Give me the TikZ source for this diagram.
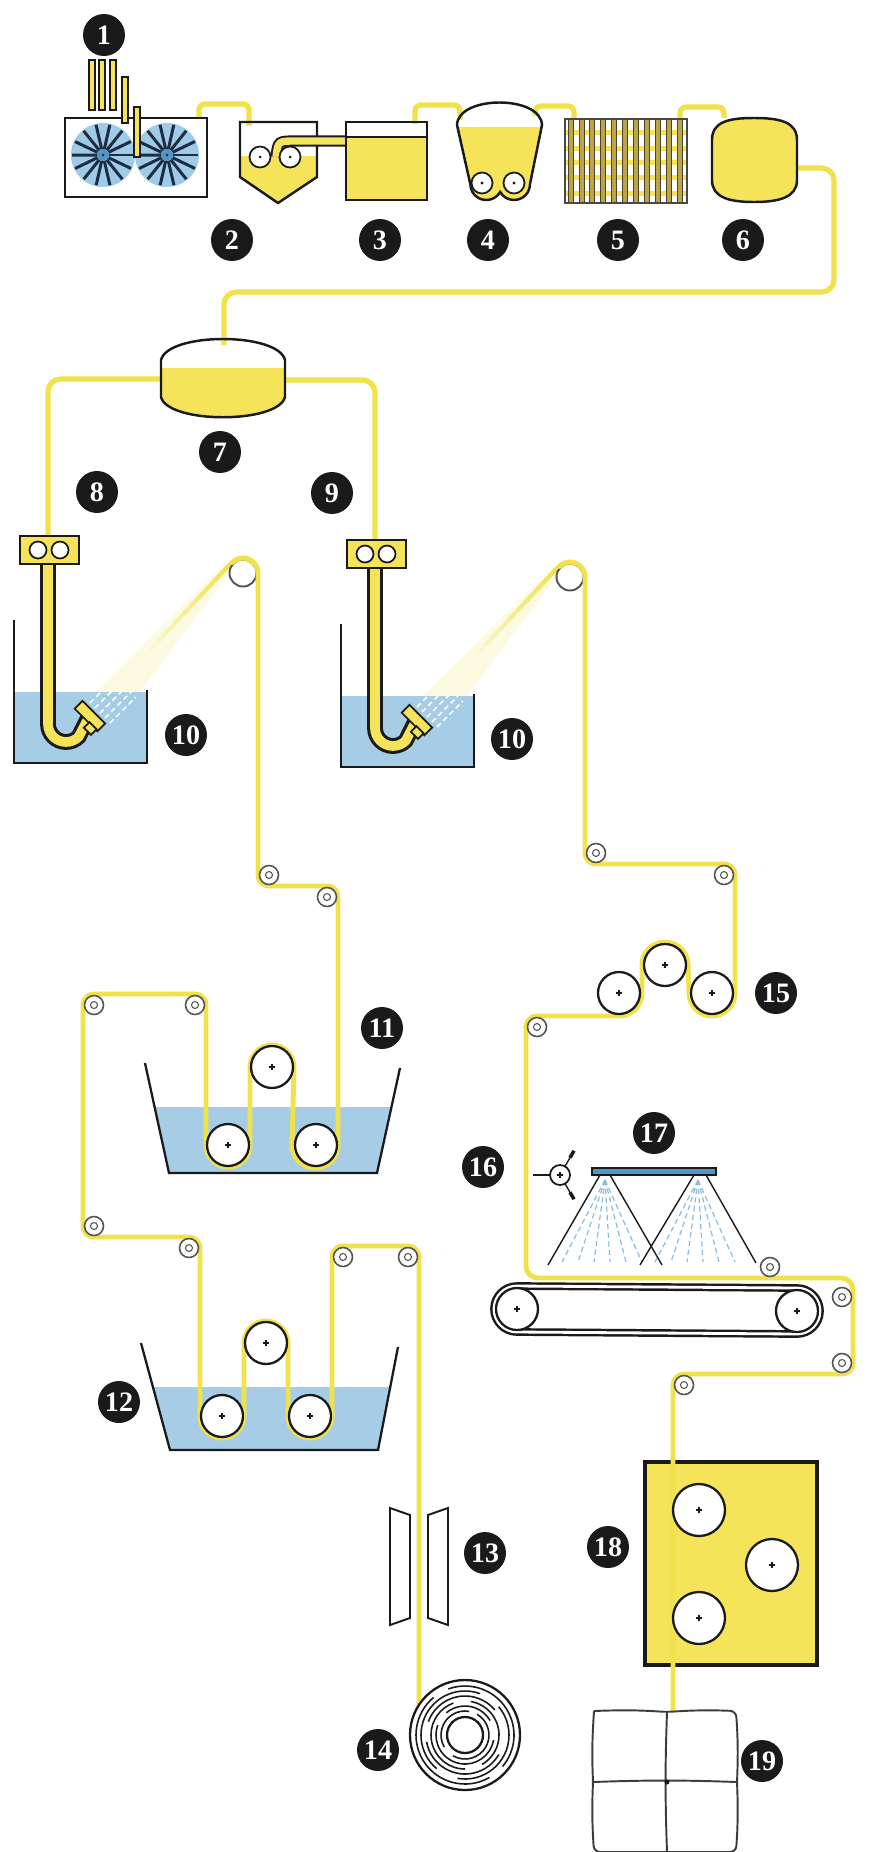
\documentclass[tikz,border=0pt]{standalone}
\usepackage{fontspec}
\setmainfont{Liberation Serif}
\usetikzlibrary{calc}
\definecolor{fiber}{HTML}{F1E14A}
\definecolor{paste}{HTML}{F5E35A}
\definecolor{bath}{HTML}{A6CDE5}
\definecolor{fanblue}{HTML}{9FCBE6}
\definecolor{spoke}{HTML}{1D2C44}
\definecolor{ink}{HTML}{1A1A1A}
\definecolor{spray}{HTML}{4F98C6}
\definecolor{rackbar}{HTML}{BBA44A}

\begin{document}
\begin{tikzpicture}[x=0.02cm, y=-0.02cm,
    fiber/.style={draw=fiber, line width=2.8pt, line cap=round, line join=round},
    pipe/.style={draw=fiber, line width=3pt, rounded corners=0.12cm},
    outline/.style={draw=ink, line width=1.4pt},
    thin/.style={draw=ink, line width=0.8pt},
    drum/.style={draw=ink, fill=white, line width=1.3pt},
    guide/.style={draw=ink!75, fill=white, line width=0.9pt},
    num/.style={circle, fill=ink, text=white, inner sep=0pt, minimum size=0.84cm,
                font=\bfseries\fontsize{16}{16}\selectfont}]

\useasboundingbox (0,0) rectangle (869,1852);
\fill[white] (0,0) rectangle (869,1852);

%% pipes of the top row
\draw[pipe] (199,122) -- (199,104) -- (249,104) -- (249,126);
\draw[pipe] (415,124) -- (415,105) -- (460,105) -- (460,120);
\draw[pipe] (535,116) -- (535,106) -- (574,106) -- (574,120);
\draw[pipe] (680,120) -- (680,107) -- (724,107) -- (724,118);
\draw[pipe, rounded corners=0.25cm] (796,168) -- (834,168) -- (834,292) -- (224,292) -- (224,345);
\draw[pipe, rounded corners=0.25cm] (163,379) -- (48,379) -- (48,540);
\draw[pipe, rounded corners=0.25cm] (283,380) -- (375,380) -- (375,544);

%% 1: dissolving tank with two stirrers
\draw[outline, fill=white] (65,118) rectangle (207,197);
\foreach \cx in {103,167}{
  \fill[fanblue] (\cx,155) circle[radius=32];
  \foreach \a in {0,25.7,...,340}
    \draw[spoke, line width=1.7pt] (\cx,155) ++(\a:6) -- ++(\a:25);
  \fill[spray] (\cx,155) circle[radius=6];
  \fill[spoke] (\cx,155) circle[radius=1.5];
}
\foreach \x/\ya/\yb in {92/60/110, 102/60/110, 113/60/110, 125/77/123, 137/107/157}
  \draw[thin, line width=0.6pt, fill=paste] (\x-3,\ya) rectangle (\x+3,\yb);

%% 2: hopper
\begin{scope}
  \clip (240,122) -- (317,122) -- (317,177) -- (278,203) -- (240,177) -- cycle;
  \fill[paste] (230,156) rectangle (330,210);
\end{scope}
\draw[outline, line join=miter] (240,122) -- (317,122) -- (317,177) -- (278,203) -- (240,177) -- cycle;
\draw[ink, line width=6.4pt] (276,157) .. controls (278,141) .. (296,141) -- (347,141);
\draw[paste, line width=4.2pt] (276,157) .. controls (278,141) .. (296,141) -- (352,141);
\foreach \x in {260,290}{
  \draw[drum, line width=1pt] (\x,157) circle[radius=10.5];
  \fill[ink] (\x,157) circle[radius=1.5];
}

%% 3
\fill[paste] (346,137) rectangle (427,200);
\draw[ink, line width=1pt] (346,137) -- (427,137);
\draw[outline] (346,122) rectangle (427,200);

%% 4
\def\vesselfour{(457,125) .. controls (458,95) and (541,95) .. (542,125) -- (530,184)
  arc[start angle=0, end angle=150, radius=16] arc[start angle=30, end angle=180, radius=16] -- cycle}
\begin{scope}
  \clip \vesselfour;
  \fill[paste] (450,127) rectangle (550,210);
\end{scope}
\draw[outline] \vesselfour;
\foreach \x in {482,514}{
  \draw[drum, line width=1pt] (\x,183) circle[radius=10.5];
  \fill[ink] (\x,183) circle[radius=1.6];
}

%% 5: filter rack
\fill[white] (565,119) rectangle (687,203);
\foreach \y in {132,148,162,177,193}
  \fill[paste] (565,\y-2.5) rectangle (687,\y+2.5);
\foreach \i in {0,...,10}
  \draw[draw=ink!70!rackbar, line width=0.4pt, fill=rackbar] (568+10.9*\i,119) rectangle (573+10.9*\i,203);
\draw[thin, draw=ink!80] (565,119) rectangle (687,203);

%% 6
\draw[outline, fill=paste] (712,140) .. controls (712,122) and (728,118) .. (754,118)
  .. controls (780,118) and (797,122) .. (797,140) -- (797,180)
  .. controls (797,197) and (780,202) .. (754,202) .. controls (728,202) and (712,197) .. (712,180) -- cycle;

%% 7
\def\tanksev{(161,360) .. controls (168,332) and (278,332) .. (285,360) -- (285,397)
  .. controls (278,424) and (168,424) .. (161,397) -- cycle}
\begin{scope}
  \clip \tanksev;
  \fill[paste] (150,368) rectangle (300,430);
\end{scope}
\draw[outline] \tanksev;

%% 8, 9, 10: spinnerets in the coagulating baths
\foreach \dx/\dy in {0/0, 327/4}{
\begin{scope}[shift={(\dx,\dy)}]
  \fill[bath] (15,692) rectangle (146,763);
  \fill[fill=fiber, opacity=0.16] (96,692) -- (140,692) -- (230,572) -- (224,565) -- cycle;
  \foreach \i [evaluate=\i as \op using 0.1*\i+0.1] in {0,...,9}
    \draw[fiber, opacity=\op, line width=2.4pt, line cap=butt]
      ($(150,650)!\i/10!(232,562)$) -- ($(150,650)!\i/10+0.1!(232,562)$);
  \begin{scope}
    \clip (15,692) rectangle (146,763);
    \foreach \k in {-2,...,2}
      \draw[white, line width=0.9pt, densely dashed] (100+5*\k,713+5*\k) -- ++(26,-26);
  \end{scope}
  \draw[ink, line width=1.2pt] (14,620) -- (14,763) -- (147,763) -- (147,690);
  % feed tube and jet
  \draw[ink, line width=9pt] (48,562) -- (48,724) arc[start angle=180, end angle=45, radius=18] -- (88,718);
  \draw[paste, line width=5.5pt] (48,560) -- (48,724) arc[start angle=180, end angle=45, radius=18] -- (89,717);
  \begin{scope}[shift={(86,720)}, rotate=45]
    \draw[ink, line width=1pt, fill=paste] (0,-16) rectangle (11,16);
    \draw[ink, line width=1pt, fill=paste] (-7,4) rectangle (1,14);
  \end{scope}
  \draw[outline, fill=paste] (20,536) rectangle (79,564);
  \foreach \x in {38,60}
    \draw[ink, line width=1pt, fill=white] (\x,550) circle[radius=8.5];
  \draw[guide, line width=1.1pt] (243,573) circle[radius=13.5];
\end{scope}}

%% 11, 12: washing baths
\begin{scope}
  \clip (0,1107) rectangle (869,1180);
  \fill[bath] (145,1063) -- (169,1173) -- (377,1173) -- (400,1068) -- cycle;
\end{scope}
\draw[ink, line width=1.3pt] (145,1063) -- (169,1173) -- (377,1173) -- (400,1068);
\begin{scope}
  \clip (0,1387) rectangle (869,1460);
  \fill[bath] (141,1343) -- (170,1450) -- (378,1450) -- (398,1347) -- cycle;
\end{scope}
\draw[ink, line width=1.3pt] (141,1343) -- (170,1450) -- (378,1450) -- (398,1347);

%% 18: cutter housing
\draw[outline, line width=1.8pt, fill=paste] (645,1462) rectangle (817,1665);

%% tow, left line
\draw[fiber] (232.4,562.4) arc[start angle=225, end angle=360, radius=15]
  -- (258,875) arc[start angle=180, end angle=90, radius=11]
  -- (327,886) arc[start angle=270, end angle=360, radius=11]
  -- (338,1145) arc[start angle=0, end angle=180, radius=23]
  -- (294,1067) arc[start angle=0, end angle=-180, radius=22]
  -- (250,1145) arc[start angle=0, end angle=180, radius=22]
  -- (206,1005) arc[start angle=0, end angle=-90, radius=11]
  -- (94,994) arc[start angle=270, end angle=180, radius=11]
  -- (83,1226) arc[start angle=180, end angle=90, radius=11]
  -- (189,1237) arc[start angle=270, end angle=360, radius=11]
  -- (200,1416) arc[start angle=180, end angle=0, radius=22]
  -- (244,1343) arc[start angle=180, end angle=360, radius=22]
  -- (288,1416) arc[start angle=180, end angle=0, radius=22]
  -- (332,1257) arc[start angle=180, end angle=270, radius=11]
  -- (408,1246) arc[start angle=270, end angle=360, radius=11]
  -- (419,1707);

%% tow, right line
\draw[fiber] (559.4,566.4) arc[start angle=225, end angle=360, radius=15]
  -- (585,853) arc[start angle=180, end angle=90, radius=11]
  -- (724,864) arc[start angle=270, end angle=360, radius=11]
  -- (735,993) arc[start angle=0, end angle=180, radius=23]
  -- (688,965) arc[start angle=0, end angle=-180, radius=23]
  -- (642,993) arc[start angle=0, end angle=90, radius=23]
  -- (537,1016) arc[start angle=270, end angle=180, radius=11];
\draw[fiber, rounded corners=0.24cm] (526,1027) -- (526,1278) -- (853,1278) -- (853,1363);
\draw[fiber] (853,1363) arc[start angle=0, end angle=90, radius=11]
  -- (684,1374) arc[start angle=270, end angle=180, radius=11]
  -- (673,1712);

%% small guide rollers
\foreach \x/\y in {269/875, 327/897, 195/1005, 94/1005, 94/1226, 189/1248, 343/1257, 408/1257,
                   596/853, 724/875, 537/1027, 770/1267, 842/1297, 842/1363, 684/1385}{
  \draw[guide] (\x,\y) circle[radius=9.5];
  \draw[guide, line width=0.6pt] (\x,\y) circle[radius=3.5];
}

%% 16: sprinkler head, 17: spray bar
\draw[ink, line width=0.8pt] (550,1175) -- (533,1175);
\draw[ink, line width=0.8pt] (560,1175) ++(-60:10) -- ++(-60:12) (560,1175) ++(60:10) -- ++(60:12);
\draw[ink, line width=2pt] (560,1175) ++(-60:20) -- ++(-60:8) (560,1175) ++(60:20) -- ++(60:8);
\draw[ink, fill=white, line width=1pt] (560,1175) circle[radius=10];
\draw[ink, line width=0.6pt] (557,1175) -- (563,1175) (560,1172) -- (560,1178);
\foreach \nx in {605,698}
  \foreach \ex in {-43,-27,-11,5,21,37}
    \draw[bath!70!spray, densely dashed, line width=0.7pt] (\nx,1180) -- (\nx+\ex,1262);
\draw[ink, line width=0.8pt] (600,1175) -- (548,1265) (610,1175) -- (662,1265)
  (694,1175) -- (640,1265) (706,1175) -- (756,1263);
\draw[ink, line width=0.8pt, fill=spray] (592,1168) rectangle (716,1175);

%% conveyor belt
\draw[ink, line width=1.4pt, double=white, double distance=1.6pt] (517,1286) -- (797,1288)
  arc[start angle=-90, end angle=90, radius=23] -- (517,1332)
  arc[start angle=90, end angle=270, radius=23] -- cycle;

%% large rollers
\foreach \x/\y in {316/1145, 272/1067, 228/1145, 222/1416, 266/1343, 310/1416,
                   712/993, 665/965, 619/993, 517/1309, 797/1311}{
  \draw[drum] (\x,\y) circle[radius=21];
  \draw[ink, line width=0.6pt] (\x-3,\y) -- (\x+3,\y) (\x,\y-3) -- (\x,\y+3);
}
\foreach \x/\y in {699/1510, 772/1565, 699/1618}{
  \draw[drum] (\x,\y) circle[radius=26];
  \draw[ink, line width=0.6pt] (\x-3,\y) -- (\x+3,\y) (\x,\y-3) -- (\x,\y+3);
}

%% 13: stretching guide
\draw[ink, line width=1.1pt, fill=white] (390,1508) -- (410,1515) -- (410,1618) -- (390,1625) -- cycle;
\draw[ink, line width=1.1pt, fill=white] (428,1515) -- (448,1508) -- (448,1625) -- (428,1618) -- cycle;

%% 14: wound filament
\draw[drum] (465,1735) circle[radius=55];
\foreach \r/\a/\b in {24/-60/120, 24/150/280, 29/10/200, 29/230/330, 34/-80/60, 34/90/250,
                      39/30/170, 39/200/320, 44/-40/100, 44/130/290, 49/60/230, 49/250/400}
  \draw[ink, line width=0.9pt] (465,1735) ++(\a:\r) arc[start angle=\a, end angle=\b, radius=\r];
\draw[drum] (465,1735) circle[radius=18];

%% 19: bale
\draw[ink!85, line width=1.1pt, fill=white, rounded corners=0.12cm] (594,1711) to[bend left=3] (667,1712)
  to[bend left=3] (736,1711) to[bend left=3] (737,1782) to[bend left=3] (736,1852)
  -- (594,1852) to[bend left=3] (593,1782) to[bend left=3] (594,1711);
\draw[ink!85, line width=1.1pt] (667,1712) to[bend right=2] (667,1852) (593,1782) to[bend left=2] (737,1782);
\fill[ink] (667,1782) circle[radius=2.5];

%% step numbers
\node[num] (n1) at (104,35) {1};
\node[num] (n2) at (232,240) {2};
\node[num] (n3) at (380,240) {3};
\node[num] (n4) at (488,240) {4};
\node[num] (n5) at (618,240) {5};
\node[num] (n6) at (743,240) {6};
\node[num] (n7) at (220,452) {7};
\node[num] (n8) at (97,492) {8};
\node[num] (n9) at (332,493) {9};
\node[num] (n10a) at (186,735) {10};
\node[num] (n10b) at (512,739) {10};
\node[num] (n11) at (382,1028) {11};
\node[num] (n12) at (119,1402) {12};
\node[num] (n13) at (485,1553) {13};
\node[num] (n14) at (378,1750) {14};
\node[num] (n15) at (776,993) {15};
\node[num] (n16) at (483,1167) {16};
\node[num] (n17) at (654,1133) {17};
\node[num] (n18) at (608,1547) {18};
\node[num] (n19) at (762,1761) {19};
\end{tikzpicture}
\end{document}
